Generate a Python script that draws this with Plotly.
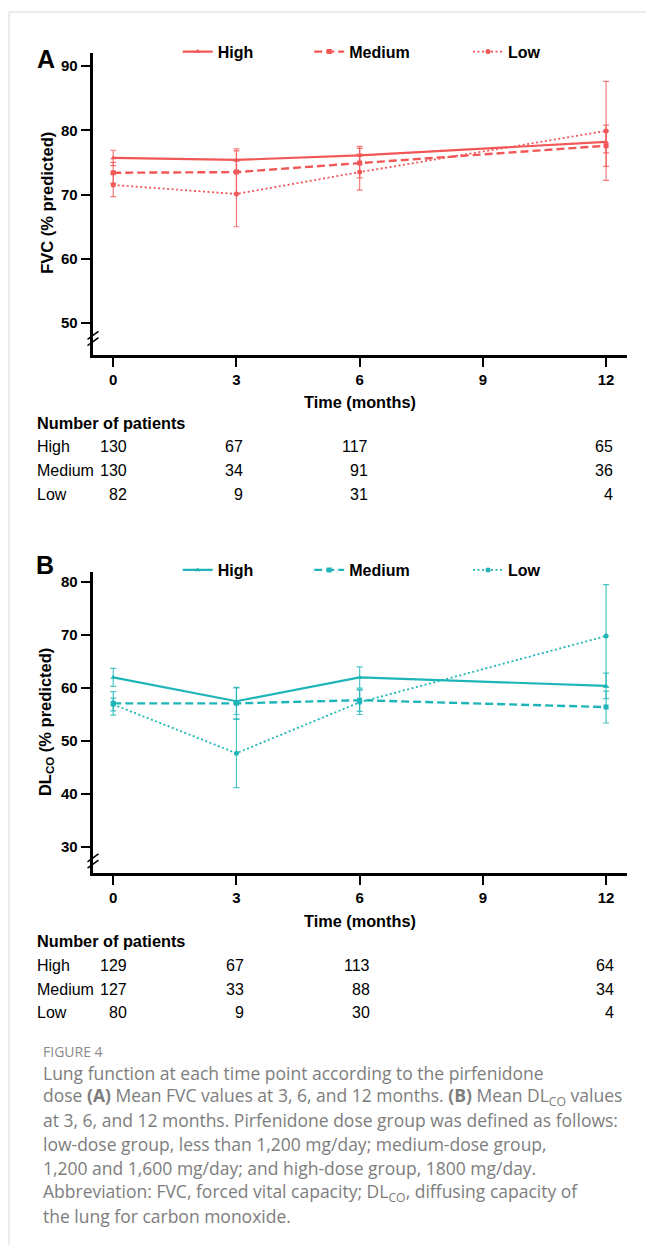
import plotly.graph_objects as go

# ---------------- data ----------------
months = [0, 3, 6, 12]
groups = ["High", "Medium", "Low"]

fvc_high = [75.7, 75.4, 76.1, 78.2]
fvc_high_err = [1.2, 1.7, 1.4, 1.7]
fvc_medium = [73.4, 73.5, 74.9, 77.6]
fvc_medium_err = [1.6, 3.3, 2.3, 3.2]
fvc_low = [71.5, 70.1, 73.5, 79.9]
fvc_low_err = [1.8, 5.1, 2.8, 7.7]

dlco_high = [62.0, 57.5, 62.0, 60.4]
dlco_high_err = [1.7, 2.5, 2.0, 2.4]
dlco_medium = [57.1, 57.1, 57.7, 56.4]
dlco_medium_err = [2.2, 3.0, 2.1, 3.0]
dlco_low = [56.9, 47.7, 57.3, 69.8]
dlco_low_err = [1.2, 6.5, 2.3, 9.7]

x_ticks = [0, 3, 6, 9, 12]
fvc_ticks = [50, 60, 70, 80, 90]
dlco_ticks = [30, 40, 50, 60, 70, 80]

n_fvc = {"High": [130, 67, 117, 65], "Medium": [130, 34, 91, 36], "Low": [82, 9, 31, 4]}
n_dlco = {"High": [129, 67, 113, 64], "Medium": [127, 33, 88, 34], "Low": [80, 9, 30, 4]}

caption_title = "FIGURE 4"
caption_lines = [
    "Lung function at each time point according to the pirfenidone",
    "dose <b>(A)</b> Mean FVC values at 3, 6, and 12 months. <b>(B)</b> Mean DL<sub>CO</sub> values",
    "at 3, 6, and 12 months. Pirfenidone dose group was defined as follows:",
    "low-dose group, less than 1,200 mg/day; medium-dose group,",
    "1,200 and 1,600 mg/day; and high-dose group, 1800 mg/day.",
    "Abbreviation: FVC, forced vital capacity; DL<sub>CO</sub>, diffusing capacity of",
    "the lung for carbon monoxide.",
]

# ---------------- styling ----------------
W, H = 646, 1245
RED = "#F25757"
RED_ERR = "rgba(242,87,87,0.8)"
TEAL = "#1EB5B8"
TEAL_ERR = "rgba(30,181,184,0.8)"
FONT = "Liberation Sans, Arial, sans-serif"
CAP_FONT = "Open Sans, Noto Sans, sans-serif"

def px(x):
    return x / W

def py(y):
    return 1 - y / H

styles = {
    "High": dict(dash="solid", width=2.2, symbol="triangle-up", size=5),
    "Medium": dict(dash="8px,4px", width=2.4, symbol="square", size=5),
    "Low": dict(dash="2px,2.5px", width=1.8, symbol="circle", size=5),
}

fig = go.Figure()

panelA = {"High": (fvc_high, fvc_high_err), "Medium": (fvc_medium, fvc_medium_err), "Low": (fvc_low, fvc_low_err)}
panelB = {"High": (dlco_high, dlco_high_err), "Medium": (dlco_medium, dlco_medium_err), "Low": (dlco_low, dlco_low_err)}

legend_text_x = {"High": 219.7, "Medium": 351.2, "Low": 510.0}
legend_names_A = {"High": "legend", "Medium": "legend2", "Low": "legend3"}
legend_names_B = {"High": "legend4", "Medium": "legend5", "Low": "legend6"}

for panel, color, ecolor, xa, ya, lnames in [
    (panelA, RED, RED_ERR, "x", "y", legend_names_A),
    (panelB, TEAL, TEAL_ERR, "x2", "y2", legend_names_B),
]:
    for g in groups:
        vals, errs = panel[g]
        s = styles[g]
        fig.add_trace(go.Scatter(
            x=months, y=vals, name=g, xaxis=xa, yaxis=ya, legend=lnames[g],
            mode="lines+markers", showlegend=True,
            line=dict(color=color, width=s["width"], dash=s["dash"]),
            marker=dict(color=color, symbol=s["symbol"], size=s["size"]),
            error_y=dict(type="data", array=errs, visible=True, color=ecolor, thickness=1.2, width=3),
        ))

axis_common = dict(
    showgrid=False, zeroline=False, showline=True, linecolor="black", linewidth=3,
    ticks="outside", ticklen=9, tickwidth=2, tickcolor="black",
    tickfont=dict(family=FONT, size=15, color="black", weight="bold"),
)

XDOM = [px(92.7), px(626.6)]
fig.update_layout(
    width=W, height=H, autosize=False, showlegend=True,
    margin=dict(l=0, r=0, t=0, b=0),
    paper_bgcolor="white", plot_bgcolor="white",
    xaxis=dict(domain=XDOM, range=[-0.5, 12.5], tickvals=x_ticks, anchor="y", **axis_common),
    yaxis=dict(domain=[py(355), py(53)], range=[45.06, 92.02], tickvals=fvc_ticks, anchor="x", **axis_common),
    xaxis2=dict(domain=XDOM, range=[-0.5, 12.5], tickvals=x_ticks, anchor="y2", **axis_common),
    yaxis2=dict(domain=[py(873.3), py(572.3)], range=[25.04, 81.83], tickvals=dlco_ticks, anchor="x2", **axis_common),
)

leg_common = dict(orientation="h", xanchor="left", yanchor="middle", bgcolor="rgba(0,0,0,0)",
                  font=dict(family=FONT, size=16, color="black", weight="bold"), itemwidth=30,
                  borderwidth=0)
legend_layout = {}
for g in groups:
    legend_layout[legend_names_A[g]] = dict(x=px(legend_text_x[g] - 42), y=py(51.7), **leg_common)
    legend_layout[legend_names_B[g]] = dict(x=px(legend_text_x[g] - 42), y=py(570), **leg_common)
fig.update_layout(**legend_layout)

ann = []
def text(x, y, t, size=16, bold=False, xanchor="left", color="black", family=FONT, textangle=0, yanchor="middle"):
    ann.append(dict(x=px(x), y=py(y), xref="paper", yref="paper", text=t, showarrow=False,
                    xanchor=xanchor, yanchor=yanchor, textangle=textangle,
                    font=dict(family=family, size=size, color=color, weight="bold" if bold else "normal")))

# panel letters
text(46, 59, "A", size=25, bold=True, xanchor="center")
text(45.3, 565, "B", size=25, bold=True, xanchor="center")
# axis titles
text(47.5, 203.3, "FVC (% predicted)", size=16.5, bold=True, xanchor="center", textangle=-90)
text(45.4, 721.7, "DL<sub>CO</sub> (% predicted)", size=16.5, bold=True, xanchor="center", textangle=-90)
text(359.7, 402, "Time (months)", size=16.3, bold=True, xanchor="center")
text(359.7, 921, "Time (months)", size=16.3, bold=True, xanchor="center")

# patient tables
def table(counts, header_y, row_ys, col_right):
    text(35, header_y, "Number of patients", size=16.3, bold=True)
    for g, ry in zip(groups, row_ys):
        text(35, ry, g, size=16)
        for v, cx in zip(counts[g], col_right):
            text(cx, ry, str(v), size=16, xanchor="right")

table(n_fvc, 423.3, [446.7, 470.7, 494.3], [128.5, 245.0, 369.7, 615.3])
table(n_dlco, 941, [965, 989.3, 1012.3], [129.0, 246.0, 371.7, 616.3])

# caption
text(41.2, 1051.5, caption_title, size=14, color="#8a8a8a", family=CAP_FONT)
cap_ys = [1072.8, 1096.7, 1120, 1144, 1168.3, 1192.3, 1215.7]
for line, cy in zip(caption_lines, cap_ys):
    text(41.2, cy, line, size=17.5, color="#7d7d7d", family=CAP_FONT)

fig.update_layout(annotations=ann)

# frame lines and axis-break marks
shapes = [
    dict(type="line", xref="paper", yref="paper", x0=px(9), x1=px(646), y0=py(12), y1=py(12),
         line=dict(color="#d9d9d9", width=1)),
    dict(type="line", xref="paper", yref="paper", x0=px(9), x1=px(9), y0=py(12), y1=py(1245),
         line=dict(color="#d9d9d9", width=1)),
]
for yc in [338.5, 861]:
    for off in [-3.2, 3.2]:
        shapes.append(dict(type="line", xref="paper", yref="paper",
                           x0=px(87.5), x1=px(98.5), y0=py(yc + off + 4), y1=py(yc + off - 4),
                           line=dict(color="black", width=1.5)))
fig.update_layout(shapes=shapes)

fig.write_html("out.html", config={"displayModeBar": False},
               post_script="document.body.style.margin='0';")
